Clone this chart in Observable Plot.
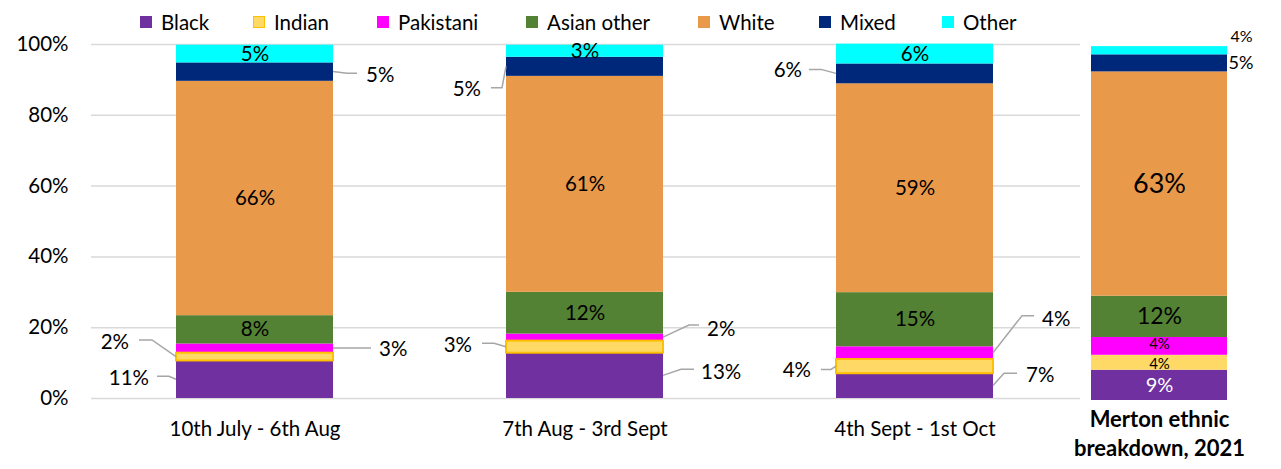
<!DOCTYPE html>
<html><head><meta charset="utf-8">
<script src="https://cdn.jsdelivr.net/npm/d3@7"></script>
<script src="https://cdn.jsdelivr.net/npm/@observablehq/plot@0.6"></script>
<style>
body{margin:0;background:#fff;font-family:Lato,"Open Sans",sans-serif;}
#wrap{position:relative;width:1281px;height:469px;overflow:hidden;}
#legend{position:absolute;left:0;top:0;width:1281px;height:44px;font-size:20.5px;color:#000;z-index:2;}
.item{position:absolute;top:0;height:44px;display:flex;align-items:center;}
.sw{width:12px;height:12px;margin-right:9px;box-sizing:border-box;}
#main{position:absolute;left:0;top:20px;}
#merton{position:absolute;left:1081px;top:20px;}
</style></head><body>
<div id="wrap"><div id="legend"></div><div id="main"></div><div id="merton"></div></div>
<script>
// ---- data ----
const periods = ["10th July - 6th Aug", "7th Aug - 3rd Sept", "4th Sept - 1st Oct"];
const groups = ["Black", "Indian", "Pakistani", "Asian other", "White", "Mixed", "Other"];
const black      = [10.6, 12.8, 7.0];
const indian     = [2.2, 3.4, 4.0];
const pakistani  = [2.6, 2.0, 3.6];
const asianOther = [8.0, 11.8, 15.3];
const white      = [66.2, 61.0, 59.0];
const mixed      = [5.2, 5.4, 5.6];
const other      = [5.0, 3.4, 5.6];
const yTicks = [0, 20, 40, 60, 80, 100];
const mertonCategory = "Merton ethnic\nbreakdown, 2021";
const mertonValues = [8.5, 4.2, 5.0, 11.6, 63.0, 4.8, 2.3];
const mertonLabels = ["9%", "4%", "4%", "12%", "63%", "5%", "4%"];

// ---- styles ----
const colors = ["#7030A0", "#FFD966", "#FF00FF", "#548235", "#E9994A", "#00287A", "#00FFFF"];
const FONT = "Lato, 'Open Sans', sans-serif";
const FS = 20.5;
const legendLeft = [140, 253, 377, 526, 698, 819, 942];
const seriesByGroup = [black, indian, pakistani, asianOther, white, mixed, other];
const insideGroups = ["Asian other", "White", "Other"];
// callout placement (pixel offsets from bar edge at segment middle)
const callouts = {
  "0|Mixed":     {side: 1,  elbow: [14, 1.7],  end: [24, 1.7],  text: [33, 3.4]},
  "0|Pakistani": {side: 1,  elbow: [20, 0],    end: [38, 0],    text: [46, 1]},
  "0|Indian":    {side: -1, elbow: [-24, -16.6], end: [-37, -16.6], text: [-47, -15]},
  "0|Black":     {side: -1, elbow: [-7, -3],   end: [-19, -3],  text: [-27, -1]},
  "1|Mixed":     {side: -1, elbow: [-4, 21.4], end: [-15, 21.4], text: [-25, 23]},
  "1|Pakistani": {side: 1,  elbow: [26, -12],  end: [36, -12],  text: [44, -8.7]},
  "1|Indian":    {side: -1, elbow: [-12, -3.4], end: [-24, -3.4], text: [-34, -1.7]},
  "1|Black":     {side: 1,  elbow: [18, -6],   end: [31, -6],   text: [38, -3.6]},
  "2|Mixed":     {side: -1, elbow: [-15, -4],  end: [-27, -4],  text: [-34, -3.4]},
  "2|Pakistani": {side: 1,  elbow: [29, -37],  end: [41, -37],  text: [49, -33.4]},
  "2|Indian":    {side: -1, elbow: [-5, 3.3],  end: [-15, 3.3], text: [-25, 4]},
  "2|Black":     {side: 1,  elbow: [11, -12.3], end: [24, -12.3], text: [33, -10.6]}
};

// ---- legend ----
const legend = document.getElementById("legend");
groups.forEach((g, i) => {
  const it = document.createElement("div"); it.className = "item";
  it.style.left = legendLeft[i] + "px";
  const sw = document.createElement("div"); sw.className = "sw";
  sw.style.background = colors[i];
  if (g === "Indian") sw.style.border = "1.5px solid #FFC000";
  const t = document.createElement("span"); t.textContent = g;
  it.appendChild(sw); it.appendChild(t); legend.appendChild(it);
});

// ---- tables ----
const rows = [];
periods.forEach((p, i) => {
  let c = 0;
  groups.forEach((g, j) => {
    const v = seriesByGroup[j][i];
    rows.push({pi: i, period: p, group: g, y1: c, y2: c + v, mid: c + v / 2, label: Math.round(v) + "%"});
    c += v;
  });
});
const mRows = [];
{
  let c = 0;
  groups.forEach((g, j) => {
    const v = mertonValues[j];
    mRows.push({cat: mertonCategory, group: g, y1: c, y2: c + v, mid: c + v / 2, label: mertonLabels[j]});
    c += v;
  });
}

// ---- main chart ----
const main = Plot.plot({
  width: 1085, height: 449,
  marginTop: 24, marginBottom: 71, marginLeft: 91, marginRight: 5,
  style: {fontFamily: FONT, fontSize: FS + "px", color: "#000", background: "transparent"},
  x: {domain: periods, range: [90, 1080], paddingInner: 0.524, paddingOuter: 0.262, label: null},
  y: {domain: [0, 100], label: null},
  color: {domain: groups, range: colors},
  marks: [
    Plot.ruleY(yTicks, {stroke: "#D9D9D9", strokeWidth: 1.5, strokeOpacity: 1}),
    Plot.barY(rows, {x: "period", y1: "y1", y2: "y2", fill: "group"}),
    Plot.barY(rows.filter(d => d.group === "Indian"),
      {x: "period", y1: "y1", y2: "y2", fill: "#FFD966", stroke: "#FFC000", strokeWidth: 2}),
    Plot.text(rows.filter(d => insideGroups.includes(d.group)),
      {x: "period", y: "mid", text: "label", fontSize: FS, fill: "#000"}),
    Plot.axisY({ticks: yTicks, tickSize: 0, tickPadding: 23, tickFormat: d => d + "%", fontSize: FS, label: null}),
    Plot.axisX({tickSize: 0, tickPadding: 23, fontSize: FS, label: null})
  ]
});
document.getElementById("main").appendChild(main);

// callouts through the plot's scales
{
  const sx = main.scale("x"), sy = main.scale("y");
  const g = d3.select(main).append("g");
  rows.forEach(d => {
    const c = callouts[d.pi + "|" + d.group];
    if (!c) return;
    const ax = sx.apply(d.period) + (c.side > 0 ? sx.bandwidth : 0);
    const ay = sy.apply(d.mid);
    g.append("path")
      .attr("d", `M${ax},${ay}L${ax + c.elbow[0]},${ay + c.elbow[1]}L${ax + c.end[0]},${ay + c.end[1]}`)
      .attr("fill", "none").attr("stroke", "#A6A6A6").attr("stroke-width", 1.5);
    g.append("text")
      .attr("x", ax + c.text[0]).attr("y", ay + c.text[1])
      .attr("dy", "0.35em")
      .attr("text-anchor", c.side > 0 ? "start" : "end")
      .attr("font-size", FS).attr("fill", "#000")
      .text(d.label);
  });
}

// ---- Merton chart ----
const mStyle = {
  "Black": {fs: 20, fill: "#fff", dy: 0},
  "Indian": {fs: 15, fill: "#000", dy: 1},
  "Pakistani": {fs: 15, fill: "#000", dy: -2},
  "Asian other": {fs: 23, fill: "#000", dy: 0},
  "White": {fs: 27, fill: "#000", dy: 0}
};
const mertonInside = mRows.filter(d => mStyle[d.group]);
const merton = Plot.plot({
  width: 200, height: 449,
  marginTop: 24, marginBottom: 69, marginLeft: 0, marginRight: 0,
  style: {fontFamily: FONT, fontSize: "18px", color: "#000", background: "transparent", overflow: "visible"},
  x: {domain: [mertonCategory], range: [10, 146], padding: 0, axis: null},
  y: {domain: [0, 100], axis: null},
  color: {domain: groups, range: colors},
  marks: [
    Plot.barY(mRows, {x: "cat", y1: "y1", y2: "y2", fill: "group"}),
    ...mertonInside.map(d => Plot.text([d],
      {x: "cat", y: "mid", text: "label", fontSize: mStyle[d.group].fs, fill: mStyle[d.group].fill, dy: mStyle[d.group].dy})),
    Plot.text(mRows.filter(d => d.group === "Mixed"),
      {x: "cat", y: "mid", text: "label", fontSize: 18, textAnchor: "start", dx: 69, fill: "#000"}),
    Plot.text(mRows.filter(d => d.group === "Other"),
      {x: "cat", y: "mid", text: "label", fontSize: 16, textAnchor: "start", dx: 71, dy: -14, fill: "#000"}),
    Plot.text([mertonCategory],
      {x: d => d, text: d => d, frameAnchor: "bottom", lineAnchor: "top", dy: 5,
       fontSize: 22, fontWeight: "bold", lineHeight: 1.35, fill: "#000"})
  ]
});
document.getElementById("merton").appendChild(merton);
</script>
</body></html>
